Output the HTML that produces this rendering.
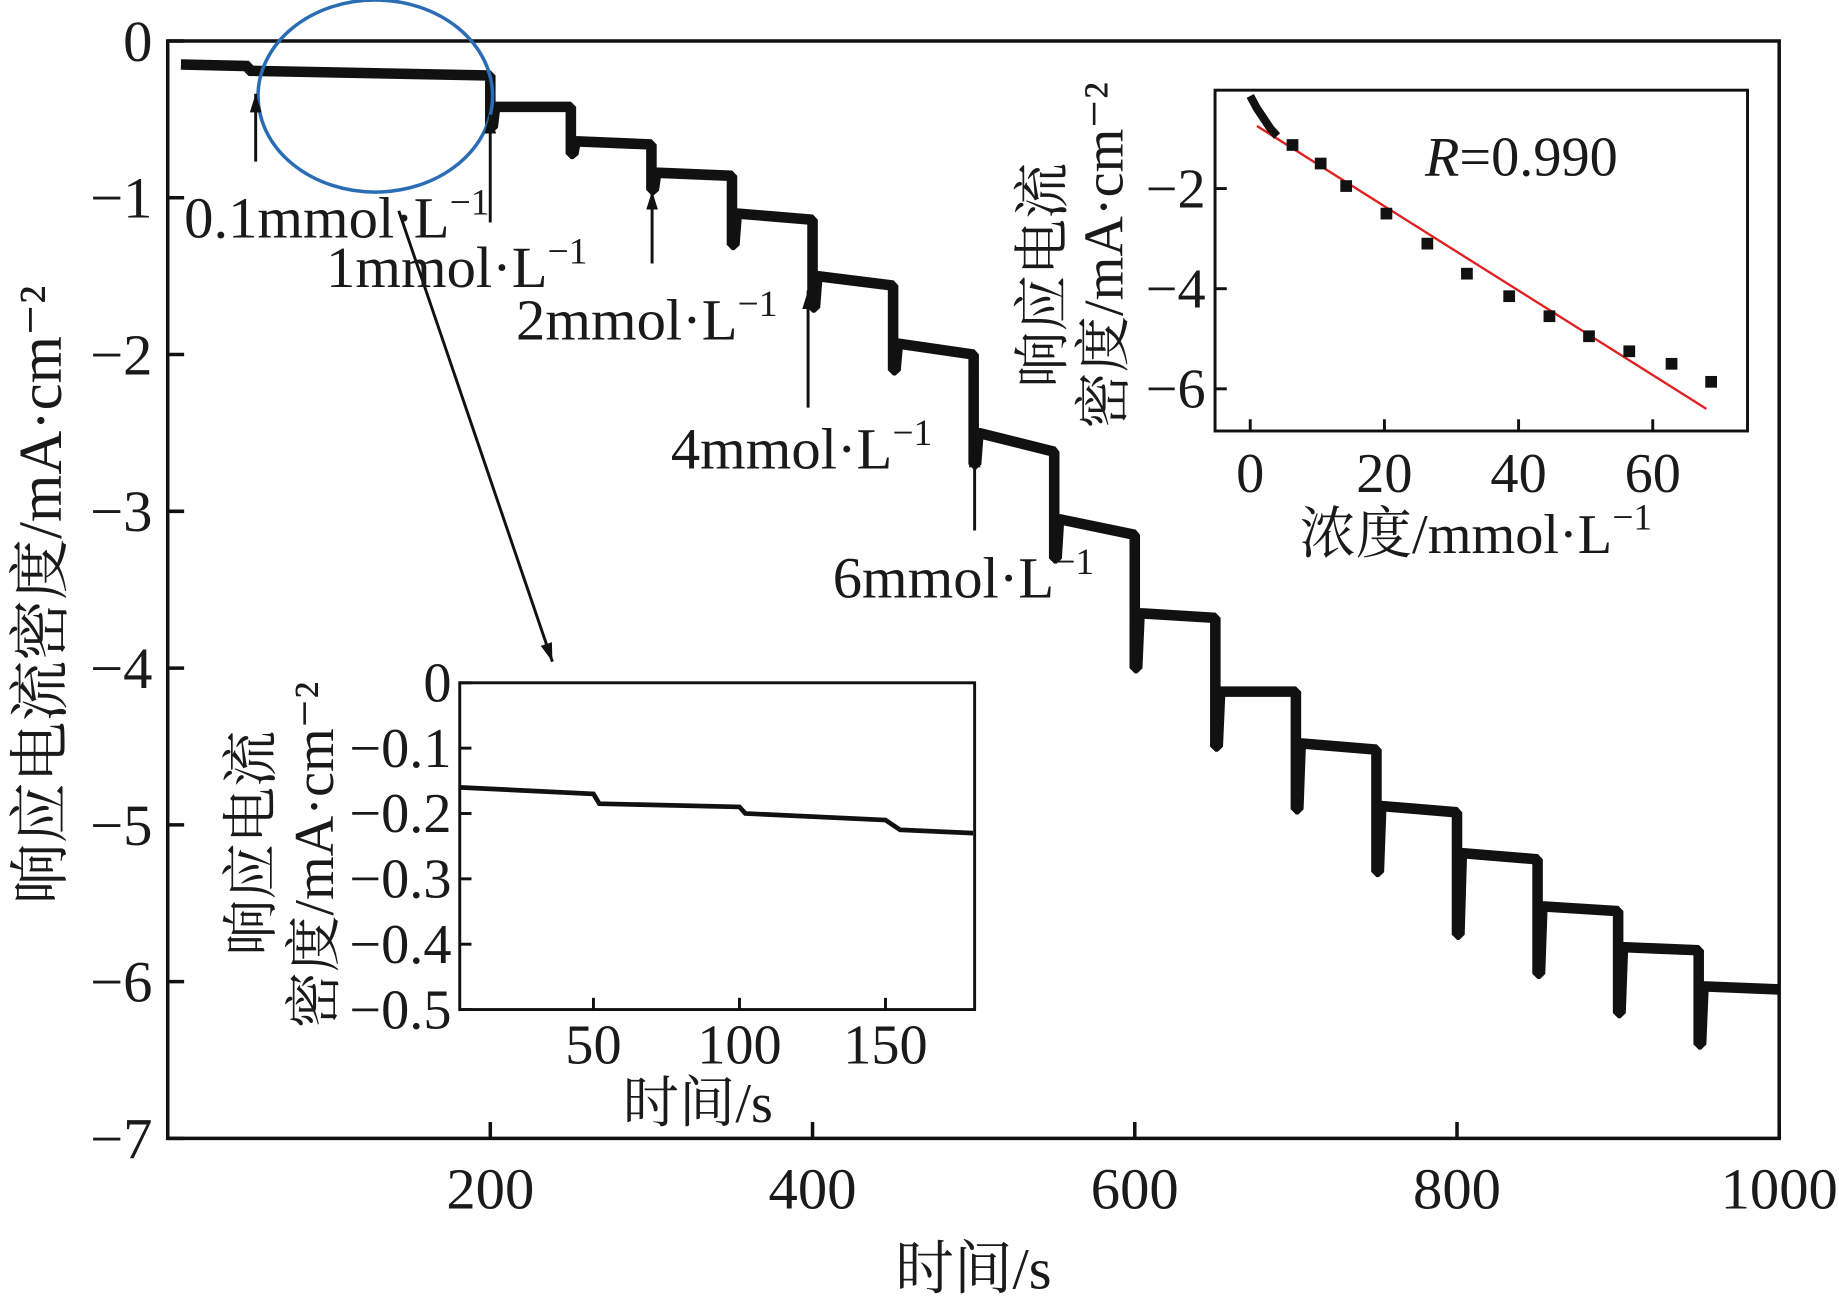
<!DOCTYPE html>
<html><head><meta charset="utf-8"><style>
html,body{margin:0;padding:0;background:#fff}
svg{display:block}
text{font-family:"Liberation Serif","Noto Serif CJK SC",serif;fill:#1a1a1a}
</style></head><body>
<svg width="1839" height="1300" viewBox="0 0 1568 1110" preserveAspectRatio="none" xmlns="http://www.w3.org/2000/svg">
<defs><marker id="ah" markerWidth="16" markerHeight="10" refX="16" refY="5" orient="auto" markerUnits="userSpaceOnUse"><path d="M0,0 L16,5 L0,10 Z" fill="#111"/></marker></defs>
<g id="main"></g>
</svg>
<script>
// main chart data
const stepStarts=[8,50,200,250,300,350,400,450,500,550,600,650,700,750,800,850,900,950];
const stepStartVals=[-0.15,-0.19,-0.42,-0.64,-0.84,-1.1,-1.5,-1.93,-2.5,-3.05,-3.65,-4.15,-4.48,-4.88,-5.18,-5.52,-5.78,-6.03];
const stepEndVals=[-0.16,-0.22,-0.42,-0.66,-0.86,-1.14,-1.56,-2.0,-2.62,-3.15,-3.68,-4.15,-4.52,-4.92,-5.22,-5.55,-5.8,-6.05];
const spikeVals=[-0.15,-0.19,-0.55,-0.72,-0.95,-1.3,-1.7,-2.1,-2.7,-3.3,-4.0,-4.5,-4.9,-5.3,-5.7,-5.95,-6.2,-6.4];
const xTicks=[200,400,600,800,1000];
const yTicks=[0,-1,-2,-3,-4,-5,-6,-7];
// inset 1 (zoom 0-180 s)
const inTimes=[4,50,52,100,102,150,155,180];
const inVals=[-0.16,-0.17,-0.185,-0.19,-0.2,-0.21,-0.225,-0.23];
const inXTicks=[50,100,150];
const inYTicks=[0,-0.1,-0.2,-0.3,-0.4,-0.5];
// inset 2 (calibration)
const calX=[6.3,10.5,14.3,20.3,26.4,32.3,38.6,44.6,50.5,56.5,62.8,68.7];
const calY=[-1.13,-1.5,-1.95,-2.5,-3.1,-3.7,-4.15,-4.55,-4.95,-5.25,-5.5,-5.86];
const calCurveX=[0,1,2,3,4];
const calCurveY=[-0.15,-0.4,-0.6,-0.8,-0.95];
const fitX=[1,68];
const fitY=[-0.75,-6.4];
const calXTicks=[0,20,40,60];
const calYTicks=[-2,-4,-6];

const NS="http://www.w3.org/2000/svg";
const root=document.getElementById('main');
function el(tag,attrs,parent,txt){const e=document.createElementNS(NS,tag);for(const k in attrs)e.setAttribute(k,attrs[k]);if(txt!==undefined)e.textContent=txt;(parent||root).appendChild(e);return e;}

// main axes
const X=v=>143.3+v*1.37375, Y=v=>35-v*133.86;
let f=el('rect',{x:143,y:35,width:1374,height:937,fill:'none',stroke:'#111','stroke-width':3});

xTicks.forEach(t=>{let l=el('line',{x1:X(t),x2:X(t),y1:972,y2:958,stroke:'#111','stroke-width':3});
 let tx=el('text',{x:X(t),y:1032,'font-size':50,'text-anchor':'middle'},root,t);});
yTicks.forEach(t=>{let l=el('line',{x1:143,x2:157,y1:Y(t),y2:Y(t),stroke:'#111','stroke-width':3});
 let tx=el('text',{x:130,y:Y(t)+17,'font-size':50,'text-anchor':'end'},root,t===0?'0':'−'+Math.abs(t));});
let xt=el('text',{x:830,y:1100,'font-size':50,'text-anchor':'middle'},root,'时间/s');
let yt=el('text',{x:0,y:0,'font-size':52,'text-anchor':'middle',transform:'translate(52,508) rotate(-90)'},root,'响应电流密度/mA·cm⁻²');

// main series
let d='';
stepStarts.forEach((s,i)=>{const e=i<stepStarts.length-1?stepStarts[i+1]:1000;
 d+=(i===0?'M':'L')+X(s)+','+Y(stepStartVals[i])+' ';
 if(spikeVals[i]<stepStartVals[i]-0.05){d+='L'+X(s)+','+Y(spikeVals[i])+' L'+X(s+1.5)+','+Y(spikeVals[i])+' L'+X(s+3)+','+Y(stepStartVals[i])+' ';}
 d+='L'+X(e)+','+Y(stepEndVals[i])+' ';});
let p=el('path',{d:d,fill:'none',stroke:'#111','stroke-width':9,'stroke-linejoin':'bevel'});


// annotations
let ell=el('ellipse',{cx:320,cy:82,rx:100,ry:82,fill:'none',stroke:'#2a6db5','stroke-width':3});

const arrows=[[218,138,80],[418,190,98],[556,225,163],[689,348,248],[831,453,383]];
arrows.forEach(a=>{let l=el('line',{x1:a[0],y1:a[1],x2:a[0],y2:a[2],stroke:'#111','stroke-width':2.5,'marker-end':'url(#ah)'});});
let la=el('line',{x1:340,y1:180,x2:471,y2:565,stroke:'#111','stroke-width':2.5,'marker-end':'url(#ah)'});
const labels=[[157,203,'0.1mmol·L','−1'],[278,245,'1mmol·L','−1'],[440,290,'2mmol·L','−1'],[572,400,'4mmol·L','−1'],[710,510,'6mmol·L','−1']];
labels.forEach(l=>{let t=el('text',{x:l[0],y:l[1],'font-size':50},root);
 t.appendChild(document.createTextNode(l[2]));let s=document.createElementNS(NS,'tspan');s.setAttribute('dy',-20);s.setAttribute('font-size',32);s.textContent=l[3];t.appendChild(s);});

// inset 1
const iX=v=>381.5+v*2.49, iY=v=>583-v*558;
let g1=el('g',{});
el('rect',{x:392,y:583,width:439,height:279,fill:'#fff',stroke:'#111','stroke-width':2.5},g1);
inXTicks.forEach(t=>{let l=el('line',{x1:iX(t),x2:iX(t),y1:862,y2:852,stroke:'#111','stroke-width':2.5},g1);
 let tx=el('text',{x:iX(t),y:908,'font-size':48,'text-anchor':'middle'},g1,t);});
inYTicks.forEach(t=>{let l=el('line',{x1:392,x2:402,y1:iY(t),y2:iY(t),stroke:'#111','stroke-width':2.5},g1);
 let tx=el('text',{x:385,y:iY(t)+16,'font-size':48,'text-anchor':'end'},g1,t===0?'0':'−'+Math.abs(t));});
let id=inTimes.map((t,i)=>(i?'L':'M')+iX(t)+','+iY(inVals[i])).join(' ');
let ip=el('path',{d:id,fill:'none',stroke:'#111','stroke-width':4},g1);
let it=el('text',{x:595,y:958,'font-size':48,'text-anchor':'middle'},g1,'时间/s');
let iy1=el('text',{x:0,y:0,'font-size':48,'text-anchor':'middle',transform:'translate(230,720) rotate(-90)'},g1,'响应电流');
let iy2=el('text',{x:0,y:0,'font-size':48,'text-anchor':'middle',transform:'translate(284,730) rotate(-90)'},g1,'密度/mA·cm⁻²');

// inset 2
const cX=v=>1066+v*5.72, cY=v=>75.5-v*42.75;
let g2=el('g',{});
el('rect',{x:1036,y:77,width:454,height:291,fill:'#fff',stroke:'#111','stroke-width':2.5},g2);
calXTicks.forEach(t=>{let l=el('line',{x1:cX(t),x2:cX(t),y1:368,y2:358,stroke:'#111','stroke-width':2.5},g2);
 let tx=el('text',{x:cX(t),y:420,'font-size':48,'text-anchor':'middle'},g2,t);});
calYTicks.forEach(t=>{let l=el('line',{x1:1036,x2:1046,y1:cY(t),y2:cY(t),stroke:'#111','stroke-width':2.5},g2);
 let tx=el('text',{x:1028,y:cY(t)+16,'font-size':48,'text-anchor':'end'},g2,'−'+Math.abs(t));});
let fl=el('line',{x1:cX(fitX[0]),y1:cY(fitY[0]),x2:cX(fitX[1]),y2:cY(fitY[1]),stroke:'#e02020','stroke-width':2},g2);
let cc=el('path',{d:calCurveX.map((x,i)=>(i?'L':'M')+cX(x)+','+cY(calCurveY[i])).join(' '),fill:'none',stroke:'#111','stroke-width':7},g2);
calX.forEach((x,i)=>{let r=el('rect',{x:cX(x)-5,y:cY(calY[i])-5,width:10,height:10,fill:'#111'},g2);});
let rt=el('text',{x:1215,y:150,'font-size':48},g2);
rt.innerHTML='<tspan font-style="italic">R</tspan>=0.990';
let ct=el('text',{x:1108,y:472,'font-size':48},g2);
ct.innerHTML='浓度/mmol·L<tspan dy="-20" font-size="32">−1</tspan>';
let cy1=el('text',{x:0,y:0,'font-size':48,'text-anchor':'middle',transform:'translate(905,235) rotate(-90)'},g2,'响应电流');
let cy2=el('text',{x:0,y:0,'font-size':48,'text-anchor':'middle',transform:'translate(957,218) rotate(-90)'},g2,'密度/mA·cm⁻²');
</script>
</body></html>
